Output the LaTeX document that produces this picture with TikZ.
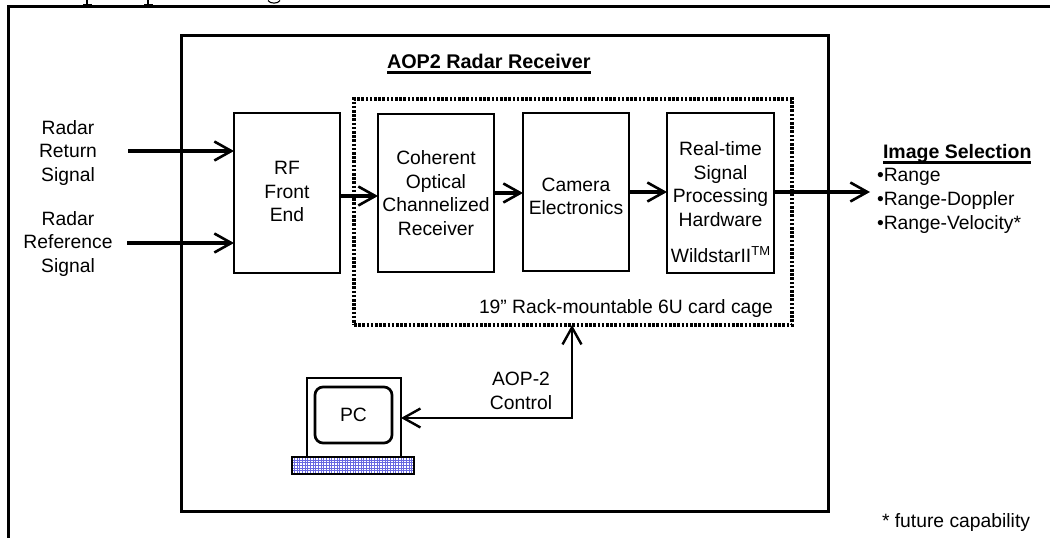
\documentclass[tikz,border=0pt]{standalone}
\usepackage{fontspec}
\setmainfont{Liberation Sans}
\usetikzlibrary{arrows.meta,calc}
\newcommand{\thickul}[1]{\setbox0=\hbox{#1}\rlap{\raisebox{-5.5pt}{\rule{\wd0}{3pt}}}\box0 }
\definecolor{gridblue}{RGB}{105,105,225}
\tikzset{
  plain/.style={font=\fontsize{19.3pt}{23.7pt}\selectfont, inner sep=0pt, outer sep=0pt, align=center},
  blockbox/.style={plain, draw, line width=2.7pt, rectangle},
  framebox/.style={draw, line width=3pt, inner sep=0pt, outer sep=0pt},
  flow/.style={line width=3.4pt, -{Straight Barb[length=17pt,width=19pt,line width=2.6pt]}},
  biflow/.style={line width=2.5pt, {Straight Barb[length=17pt,width=19pt,line width=2.4pt]}-{Straight Barb[length=17pt,width=19pt,line width=2.4pt]}}
}
\begin{document}
\begin{tikzpicture}[x=1pt,y=-1pt]
\useasboundingbox (0,0) rectangle (1050,538);
% sheet frame and the cut-off text above it
\draw[line width=3pt] (8,538) -- (8,6) -- (1050,6);
\draw[line width=1.1pt] (87,0) -- (87,4) (83,4.3) -- (92,4.3) (148,0) -- (148,4) (144,4.3) -- (153,4.3);
\draw[line width=1.1pt] (268,0.5) .. controls (270,4) and (278,4) .. (280,0.5);
% receiver frame
\node[framebox, minimum width=647pt, minimum height=476pt] (recv) at (504.5,273) {};
\node[plain, font=\fontsize{19.8pt}{23.7pt}\selectfont\bfseries, anchor=base west] (title) at (387,68) {\thickul{AOP2 Radar Receiver}};
% card cage
\node[draw, line width=3.1pt, dash pattern=on 2.6pt off 1.6pt, inner sep=0pt, outer sep=0pt, minimum width=438pt, minimum height=226pt] (cage) at (573,212) {};
\node[plain, anchor=base west] (cagetext) at (479,313) {19” Rack-mountable 6U card cage};
% blocks
\node[blockbox, minimum width=106pt, minimum height=160pt] (rf) at (287,193) {RF\\Front\\End\rule[-3pt]{0pt}{3pt}};
\node[blockbox, minimum width=116pt, minimum height=158pt] (coh) at (436,193) {Coherent\\Optical\\Channelized\\Receiver};
\node[blockbox, minimum width=106pt, minimum height=158pt] (cam) at (576,192) {\rule{0pt}{22pt}Camera\\Electronics};
\node[blockbox, minimum width=107pt, minimum height=160pt] (rt) at (720.5,193) {\rule{0pt}{32pt}Real-time\\Signal\\Processing\\Hardware\\[12pt]WildstarII\raisebox{7pt}{\fontsize{13}{13}\selectfont TM}};
% inputs
\node[plain] (ret) at (68,153) {Radar\\Return\\Signal};
\node[plain] (ref) at (68,244) {Radar\\Reference\\Signal};
\coordinate (retstart) at (128,151);
\coordinate (refstart) at (127,243);
\draw[flow] (retstart) -- (retstart -| rf.west);
\draw[flow] (refstart) -- (refstart -| rf.west);
\draw[flow] ([yshift=-3pt]rf.east) -- ([yshift=-3pt]rf.east -| coh.west);
\draw[flow] (coh.east) -- (coh.east -| cam.west);
\draw[flow] (cam.east) -- (cam.east -| rt.west);
\coordinate (outend) at (870,192);
\draw[flow] (outend -| rt.east) -- (outend);
% output text
\node[plain, font=\fontsize{19.5pt}{23.7pt}\selectfont\bfseries, anchor=base west] (imgsel) at (883,158) {\thickul{Image Selection}};
\node[plain, anchor=base west] (opt1) at (877,181) {•Range};
\node[plain, anchor=base west] (opt2) at (877,205) {•Range-Doppler};
\node[plain, anchor=base west] (opt3) at (877,229) {•Range-Velocity*};
% PC
\node[blockbox, minimum width=94pt, minimum height=79pt] (mon) at (354,417.5) {};
\node[blockbox, rounded corners=8pt, minimum width=77pt, minimum height=56pt] (screen) at (353.5,415) {PC};
\node[draw, line width=2.7pt, inner sep=0pt, outer sep=0pt, minimum width=122pt, minimum height=17pt, fill=white,
  path picture={\draw[gridblue, line width=0.7pt] (path picture bounding box.south west) grid[step=2.67pt] (path picture bounding box.north east);}] (kb) at (353,465.5) {};
\node[plain] (ctrl) at (521,391) {AOP-2\\Control};
\coordinate (bend) at (572,418);
\draw[biflow] (mon.east |- bend) -- (bend) -- (bend |- cage.south);
\node[plain, anchor=base west] (future) at (882,527) {* future capability};
\end{tikzpicture}
\end{document}
